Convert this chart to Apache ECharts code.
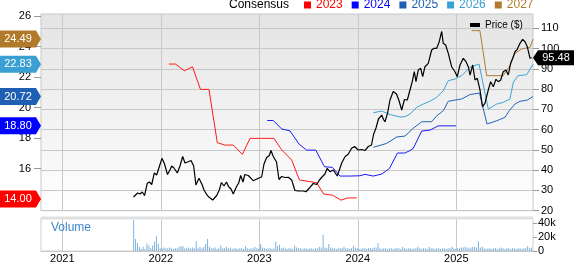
<!DOCTYPE html>
<html>
<head>
<meta charset="utf-8">
<script src="https://cdn.jsdelivr.net/npm/echarts@6/dist/echarts.min.js"></script>
<style>
html,body{margin:0;padding:0;background:#fff;}
#chart{width:574px;height:264px;}
</style>
</head>
<body>
<div id="chart"></div>
<script>
// ---------- DATA ----------
const yearTicks = [2021, 2022, 2023, 2024, 2025];
const leftTicks = [14, 16, 18, 20, 22, 24, 26];
const rightTicks = [20, 30, 40, 50, 60, 70, 80, 90, 100, 110];
const volTicks = [0, 10, 20, 30, 40];

const consensusNames = ['2023', '2024', '2025', '2026', '2027'];
const consensusTags = [14.00, 18.80, 20.72, 22.83, 24.49];
const lastPrice = 95.48;

const c2023X = [2022.083,2022.149,2022.239,2022.322,2022.403,2022.489,2022.574,2022.652,2022.736,2022.829,2022.906,2023.007,2023.149,2023.227,2023.329,2023.408,2023.532,2023.583,2023.654,2023.743,2023.829,2023.895,2023.989];
const c2023Y = [22.85,22.85,22.41,22.67,21.19,21.19,17.70,17.54,17.54,16.93,17.98,17.98,17.98,17.23,16.56,15.25,15.13,15.07,14.33,14.26,13.93,14.07,14.08];

const c2024X = [2023.081,2023.142,2023.227,2023.312,2023.403,2023.481,2023.574,2023.662,2023.743,2023.819,2023.921,2024.022,2024.073,2024.157,2024.243,2024.322,2024.403,2024.479,2024.530,2024.563,2024.649,2024.733,2024.817,2024.997];
const c2024Y = [19.15,19.15,18.60,18.47,17.61,17.21,17.21,16.12,16.08,15.51,15.51,15.53,15.62,15.51,15.64,16.01,17.02,17.02,17.18,17.32,18.46,18.52,18.80,18.80];

const c2025X = [2024.157,2024.293,2024.395,2024.479,2024.563,2024.649,2024.750,2024.801,2024.868,2024.919,2024.987,2025.055,2025.140,2025.236,2025.312,2025.410,2025.495,2025.538,2025.596,2025.647,2025.721,2025.779];
const c2025Y = [17.39,17.65,18.07,18.13,18.64,19.07,19.07,19.46,19.79,20.41,20.49,20.56,20.85,20.95,18.92,19.13,19.36,19.79,20.23,20.41,20.49,20.72];

const c2026X = [2024.157,2024.243,2024.327,2024.429,2024.479,2024.530,2024.598,2024.665,2024.733,2024.801,2024.868,2024.919,2024.987,2025.055,2025.140,2025.231,2025.325,2025.410,2025.477,2025.545,2025.579,2025.629,2025.715,2025.779];
const c2026Y = [19.66,19.77,19.54,19.38,19.40,19.57,20.01,20.23,20.41,20.67,21.10,21.76,21.87,22.09,22.64,22.85,19.90,20.23,20.34,20.56,21.66,22.09,22.15,22.83];

const c2027X = [2025.156,2025.240,2025.309,2025.477,2025.545,2025.596,2025.664,2025.749,2025.779];
const c2027Y = [25.04,25.04,22.09,22.09,22.74,23.55,23.84,23.95,24.49];

const priceX = [2021.723,2021.743,2021.765,2021.789,2021.812,2021.835,2021.863,2021.885,2021.908,2021.934,2021.958,2021.985,2022.012,2022.038,2022.068,2022.093,2022.111,2022.134,2022.168,2022.195,2022.222,2022.246,2022.279,2022.307,2022.334,2022.357,2022.388,2022.421,2022.439,2022.459,2022.482,2022.527,2022.568,2022.594,2022.616,2022.642,2022.667,2022.687,2022.713,2022.736,2022.767,2022.791,2022.811,2022.835,2022.853,2022.888,2022.939,2022.990,2023.024,2023.048,2023.075,2023.102,2023.119,2023.142,2023.175,2023.200,2023.227,2023.261,2023.296,2023.329,2023.362,2023.396,2023.447,2023.474,2023.515,2023.548,2023.583,2023.611,2023.637,2023.667,2023.688,2023.718,2023.751,2023.792,2023.837,2023.870,2023.904,2023.938,2023.967,2024.005,2024.040,2024.073,2024.107,2024.139,2024.160,2024.185,2024.210,2024.243,2024.261,2024.276,2024.302,2024.327,2024.360,2024.393,2024.418,2024.446,2024.474,2024.503,2024.530,2024.553,2024.574,2024.591,2024.614,2024.639,2024.659,2024.682,2024.716,2024.750,2024.774,2024.801,2024.827,2024.852,2024.868,2024.892,2024.919,2024.953,2024.987,2025.010,2025.038,2025.071,2025.099,2025.122,2025.140,2025.167,2025.190,2025.213,2025.241,2025.266,2025.291,2025.325,2025.349,2025.376,2025.403,2025.426,2025.451,2025.477,2025.505,2025.528,2025.552,2025.573,2025.596,2025.619,2025.647,2025.674,2025.698,2025.721,2025.749,2025.766];
const priceY = [26.76,27.50,28.73,28.24,29.23,27.50,33.52,34.16,32.93,38.60,37.62,41.71,45.85,43.04,37.86,40.08,42.06,41.07,38.60,42.06,46.74,43.54,44.18,44.77,42.06,32.68,35.99,32.68,30.21,28.59,27.01,25.28,27.50,30.21,33.91,32.19,34.16,31.94,30.71,28.24,31.69,33.67,37.37,34.16,37.86,37.37,34.80,35.99,36.63,43.04,46.25,47.24,49.70,46.74,44.03,35.39,36.87,36.38,36.48,35.15,29.97,29.82,29.72,29.37,31.45,33.42,32.93,35.15,36.63,38.11,40.82,39.24,40.08,37.12,43.54,46.64,47.98,50.79,51.68,49.95,50.20,49.70,51.68,52.42,57.60,60.81,65.25,67.22,65.00,63.91,68.06,74.62,78.81,77.58,74.37,69.69,74.87,74.62,79.56,83.65,88.58,83.65,89.42,90.26,86.12,91.05,92.73,99.29,100.13,100.13,103.39,108.42,102.60,101.76,97.66,91.05,88.58,86.12,91.89,95.20,93.52,91.05,86.96,91.89,84.49,85.33,79.56,71.32,72.99,79.56,83.65,81.18,84.84,83.65,84.49,88.58,89.42,86.96,92.73,95.20,98.45,99.64,102.60,104.57,103.39,100.92,95.20,95.48];

// weekly volume (thousands), first week ~ 2021.72
const volStartYear = 2021.725;
const volWeekStep = 1 / 52;
const volumeK = [44,17,11,6,3,6,3,11,8,4,8,13,21,10,4,4,5,4,4,5,4,3,4,4,6,7,7,4,4,5,
4,5,4,14,4,6,4,6,10,17,6,4,4,5,3,4,8,4,4,6,4,5,3,4,4,3,4,4,3,7,
4,3,4,4,6,4,3,10,5,4,3,4,4,3,4,13,7,9,4,5,4,3,4,4,3,8,5,4,4,3,
4,4,3,4,4,3,4,4,6,5,23,5,4,10,5,4,4,3,4,4,4,6,4,4,3,4,7,5,4,3,
3,4,4,3,4,4,4,5,5,11,4,3,4,4,3,4,4,3,4,4,4,3,6,4,3,4,4,3,4,4,
6,4,3,4,4,3,6,4,4,3,4,4,3,4,4,3,4,4,6,4,3,4,4,5,5,6,5,4,5,6,
6,5,14,5,6,4,3,4,4,3,4,4,3,4,5,4,3,4,4,3,4,4,3,4,4,3,4,4,7,4,5];

// ---------- CHART ----------
const FONT = '"Liberation Sans", Arial, Helvetica, sans-serif';
const xMin = 2020.784, xMax = 2025.779;
const colors = ['#ff1a1a', '#1a1aff', '#2462b6', '#3ea3d6', '#b27c30'];
const tagColors = ['#ff0000', '#0000ff', '#1f5fb3', '#3a9fd2', '#b07a2a'];
const cX = [c2023X, c2024X, c2025X, c2026X, c2027X];
const cY = [c2023Y, c2024Y, c2025Y, c2026Y, c2027Y];
const zip = (xs, ys) => xs.map((x, i) => [x, ys[i]]);

const chart = echarts.init(document.getElementById('chart'), null, {renderer: 'canvas'});

const leftTagPath = 'path://M0,0 L36,0 L41,8.5 L36,17 L0,17 Z';
const rightTagPath = 'path://M0,7.5 L5,0 L41,0 L41,15 L5,15 Z';

const consensusSeries = consensusNames.map((name, k) => ({
  name: name,
  type: 'line',
  xAxisIndex: 0, yAxisIndex: 0,
  data: zip(cX[k], cY[k]),
  showSymbol: false,
  color: tagColors[k],
  lineStyle: {width: 1, color: colors[k]},
  z: 3,
  markPoint: {
    symbol: leftTagPath,
    symbolSize: [41, 17],
    symbolKeepAspect: false,
    symbolOffset: [-20.5, 0],
    itemStyle: {color: tagColors[k]},
    label: {show: true, position: 'inside', offset: [-2.5, 0], color: '#fff', fontSize: 11, fontFamily: FONT,
            formatter: () => consensusTags[k].toFixed(2)},
    data: [{coord: [xMin, consensusTags[k]]}],
    silent: true
  }
}));

const gridGrad = {type: 'linear', x: 0, y: 0, x2: 0, y2: 1,
  colorStops: [{offset: 0, color: '#e4e4e4'}, {offset: 1, color: '#ffffff'}]};

const option = {
  animation: false,
  textStyle: {fontFamily: FONT},
  title: {text: 'Consensus', left: 229, top: -1, padding: 0,
          textStyle: {fontSize: 12, fontWeight: 'normal', color: '#000', fontFamily: FONT}},
  legend: [
    {data: consensusNames.map((n, k) => ({name: n, textStyle: {color: tagColors[k]}})),
     left: 304, top: -1, padding: 0, icon: 'rect', itemWidth: 7, itemHeight: 7, itemGap: 9,
     selectedMode: false, textStyle: {fontSize: 12, fontFamily: FONT}},
    {data: ['Price ($)'], left: 470, top: 20, padding: 0, icon: 'rect', itemWidth: 10, itemHeight: 4,
     selectedMode: false, textStyle: {fontSize: 10, color: '#000', fontFamily: FONT}}
  ],
  grid: [
    {left: 41, right: 41, top: 14, height: 196.7, show: true, backgroundColor: gridGrad,
     borderColor: '#c8c8c8', borderWidth: 1},
    {left: 41, right: 41, top: 218, height: 35.5, show: true, backgroundColor: '#fff',
     borderColor: '#d0d0d0', borderWidth: 1}
  ],
  xAxis: [
    {type: 'value', gridIndex: 0, min: xMin, max: xMax,
     axisLine: {show: true, lineStyle: {color: '#c8c8c8'}},
     axisTick: {show: false, customValues: yearTicks},
     axisLabel: {show: false},
     splitLine: {show: true, lineStyle: {color: '#c8c8c8', width: 1}}},
    {type: 'value', gridIndex: 1, min: xMin, max: xMax,
     axisLine: {show: true, lineStyle: {color: '#c8c8c8'}},
     axisTick: {show: false, customValues: yearTicks},
     axisLabel: {show: true, customValues: yearTicks, formatter: v => String(v), fontSize: 11,
                 color: '#000', margin: 2, fontFamily: FONT, showMinLabel: true, showMaxLabel: true, hideOverlap: false},
     splitLine: {show: true, lineStyle: {color: '#c8c8c8', width: 1}}}
  ],
  yAxis: [
    {type: 'value', gridIndex: 0, position: 'left', min: 13.24, max: 26.13,
     axisLine: {show: false},
     axisTick: {show: true, length: 7, customValues: leftTicks, lineStyle: {color: '#999'}},
     axisLabel: {show: true, customValues: leftTicks, fontSize: 11, color: '#000', margin: 10, fontFamily: FONT,
                 showMinLabel: true, showMaxLabel: true, hideOverlap: false},
     splitLine: {show: false}},
    {type: 'value', gridIndex: 0, position: 'right', min: 20, max: 117.06,
     axisLine: {show: false},
     axisTick: {show: true, length: 6, customValues: rightTicks, lineStyle: {color: '#999'}},
     axisLabel: {show: true, customValues: rightTicks, fontSize: 11, color: '#000', margin: 8, fontFamily: FONT,
                 showMinLabel: true, showMaxLabel: true, hideOverlap: false},
     splitLine: {show: true, lineStyle: {color: '#c8c8c8', width: 1}}},
    {type: 'value', gridIndex: 1, position: 'right', min: 0, max: 47,
     axisLine: {show: false},
     axisTick: {show: true, length: 4, customValues: volTicks, lineStyle: {color: '#999'}},
     axisLabel: {show: true, customValues: volTicks, fontSize: 11, color: '#000', margin: 5, fontFamily: FONT,
                 showMinLabel: true, showMaxLabel: true, hideOverlap: false,
                 formatter: v => v === 0 ? '0' : v + 'k'},
     splitLine: {show: false}}
  ],
  graphic: [
    {type: 'rect', shape: {x: 41, y: 216.5, width: 492, height: 3}, style: {fill: '#e0e0e0'}, z: 10, silent: true},
    {type: 'text', left: 51, top: 222, style: {text: 'Volume', fill: '#3f87c9', font: '12px ' + FONT}, z: 10, silent: true}
  ],
  series: [
    ...consensusSeries,
    {name: 'Price ($)', type: 'line', xAxisIndex: 0, yAxisIndex: 1,
     data: zip(priceX, priceY), showSymbol: false, color: '#000',
     lineStyle: {width: 1.2, color: '#000'}, z: 4,
     markPoint: {
       symbol: rightTagPath, symbolSize: [41, 15], symbolKeepAspect: false, symbolOffset: [20.5, 0],
       itemStyle: {color: '#000'},
       label: {show: true, position: 'inside', offset: [2.5, 0], color: '#fff', fontSize: 11, fontFamily: FONT,
               formatter: () => lastPrice.toFixed(2)},
       data: [{coord: [xMax, lastPrice]}], silent: true
     }},
    {name: 'Volume', type: 'bar', xAxisIndex: 1, yAxisIndex: 2,
     data: volumeK.map((v, i) => [volStartYear + i * volWeekStep, v]),
     barWidth: 1, itemStyle: {color: '#7fb2e0'}}
  ]
};
chart.setOption(option);
</script>
</body>
</html>
